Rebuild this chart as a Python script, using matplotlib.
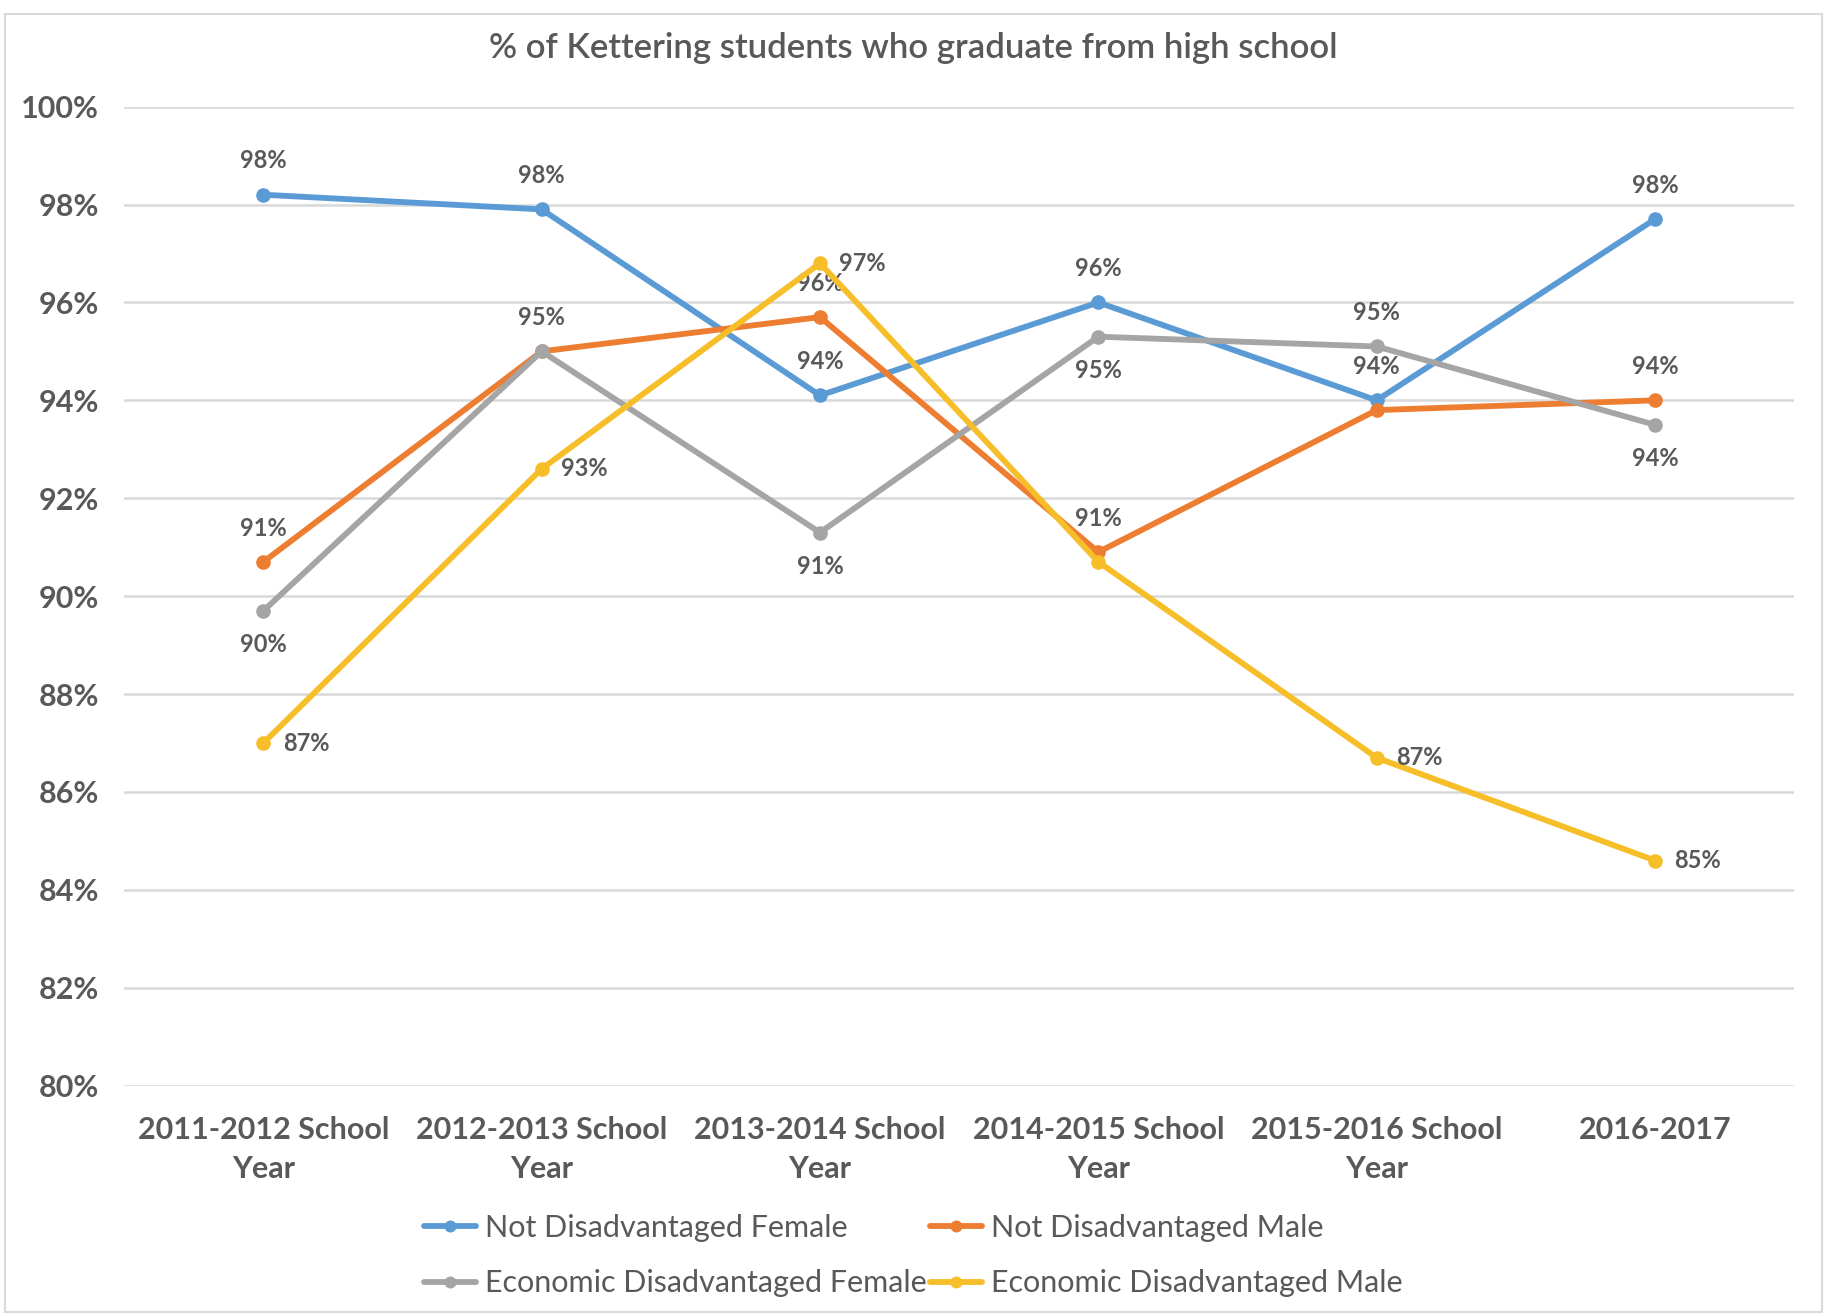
import matplotlib.pyplot as plt
from matplotlib.ticker import FuncFormatter
from matplotlib.patches import Rectangle

plt.rcParams['font.family'] = ['Lato', 'DejaVu Sans']

# chart values (graduation rate, %)
years = ["2011-2012 School\nYear", "2012-2013 School\nYear", "2013-2014 School\nYear",
         "2014-2015 School\nYear", "2015-2016 School\nYear", "2016-2017"]
not_dis_female = [98.2, 97.9, 94.1, 96.0, 94.0, 97.7]
not_dis_male = [90.7, 95.0, 95.7, 90.9, 93.8, 94.0]
econ_dis_female = [89.7, 95.0, 91.3, 95.3, 95.1, 93.5]
econ_dis_male = [87.0, 92.6, 96.8, 90.7, 86.7, 84.6]

# where each data label sits (None = hidden)
pos_blue = ['above'] * 6
pos_orange = ['above', 'above', 'above', 'above', None, 'above']
pos_gray = ['below', None, 'below', 'below', 'above', 'below']
pos_yellow = ['right', 'right', 'right', None, 'right', 'right']

series = [
    ("Not Disadvantaged Female", not_dis_female, "#5B9BD5", pos_blue),
    ("Not Disadvantaged Male", not_dis_male, "#ED7D31", pos_orange),
    ("Economic Disadvantaged Female", econ_dis_female, "#A5A5A5", pos_gray),
    ("Economic Disadvantaged Male", econ_dis_male, "#F6BE28", pos_yellow),
]

txt = "#595959"

fig = plt.figure(figsize=(18.27, 13.16), dpi=100)
ax = fig.add_axes([0.068, 0.175, 0.914, 0.744])

x = list(range(len(years)))
handles = []
for name, vals, col, pos in series:
    h, = ax.plot(x, vals, color=col, lw=4.2, marker='o', ms=9.5, label=name,
                 solid_capstyle='round', zorder=3)
    handles.append(h)
    for xi, v, p in zip(x, vals, pos):
        if p is None:
            continue
        lbl = f"{v:.0f}%"
        if p == 'above':
            ax.annotate(lbl, (xi, v), xytext=(0, 16), textcoords='offset points',
                        ha='center', va='bottom', fontsize=17, fontweight='bold', color=txt)
        elif p == 'below':
            ax.annotate(lbl, (xi, v), xytext=(0, -16), textcoords='offset points',
                        ha='center', va='top', fontsize=17, fontweight='bold', color=txt)
        else:
            ax.annotate(lbl, (xi, v), xytext=(14, 0), textcoords='offset points',
                        ha='left', va='center', fontsize=17, fontweight='bold', color=txt)

ax.set_xlim(-0.5, len(years) - 0.5)
ax.set_ylim(80, 100)
ax.set_yticks(range(80, 101, 2))
ax.yaxis.set_major_formatter(FuncFormatter(lambda v, p: f"{v:.0f}%"))
ax.set_xticks(x)
ax.set_xticklabels(years, linespacing=1.45)
ax.tick_params(axis='both', length=0, labelsize=22, labelcolor=txt)
ax.tick_params(axis='x', pad=22)
ax.tick_params(axis='y', pad=18)
for lab in ax.get_xticklabels() + ax.get_yticklabels():
    lab.set_fontweight('bold')
ax.grid(axis='y', color='#D9D9D9', lw=1.8, zorder=0)
for s in ax.spines.values():
    s.set_visible(False)

fig.suptitle("% of Kettering students who graduate from high school", y=0.976,
             fontsize=25, color=txt, fontweight='semibold')

order = [handles[0], handles[2], handles[1], handles[3]]
fig.legend(order, [h.get_label() for h in order], ncol=2, loc='center',
           bbox_to_anchor=(0.5, 0.046), frameon=False, fontsize=22,
           labelcolor=txt, handlelength=1.7, handletextpad=0.3, columnspacing=0.1,
           labelspacing=0.9, markerscale=0.8)

fig.patches.append(Rectangle((0.003, 0.003), 0.994, 0.986, transform=fig.transFigure,
                             fill=False, edgecolor='#D9D9D9', lw=1.5))

fig.savefig("out.png", dpi=100)
